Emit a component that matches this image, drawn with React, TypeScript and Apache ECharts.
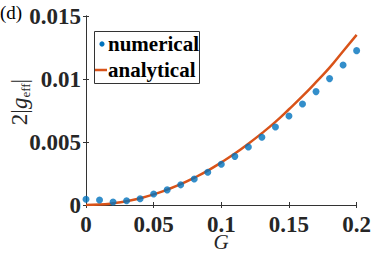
import React, { useEffect, useRef } from "react";
import * as echarts from "echarts";

const gValues = [0, 0.01, 0.02, 0.03, 0.04, 0.05, 0.06, 0.07, 0.08, 0.09, 0.1, 0.11, 0.12, 0.13, 0.14, 0.15, 0.16, 0.17, 0.18, 0.19, 0.2];
const numerical = [0.00045, 0.0004, 0.00024, 0.00034, 0.0005, 0.00087, 0.0012, 0.0016, 0.00206, 0.0026, 0.00323, 0.00386, 0.0046, 0.00537, 0.00619, 0.00706, 0.00802, 0.009, 0.01003, 0.01111, 0.01225];
const analytical = [0, 0.00003, 0.000135, 0.0003, 0.00054, 0.00084, 0.00122, 0.00165, 0.00216, 0.00273, 0.00338, 0.00408, 0.00486, 0.0057, 0.0066, 0.0076, 0.00864, 0.00975, 0.0109, 0.0122, 0.0135];
const legendNames = ["numerical", "analytical"];
const panelLabel = "(d)";
const xName = "G";

const FONT = "Liberation Serif";
const AXIS = "#333333";
const BLUE = "#0072BD";
const ORANGE = "#D95319";

export default function App() {
  const ref = useRef<HTMLDivElement>(null);
  useEffect(() => {
    if (!ref.current) return;
    const chart = echarts.init(ref.current, null, { renderer: "svg" });
    const grid = { left: 86, top: 16, width: 274, height: 189 };
    const labelStyle = { fontFamily: FONT, fontWeight: "bold" as const, fontSize: 23, color: "#262626", lineHeight: 20 };
    const tick = { show: true, inside: true, length: 3, lineStyle: { color: AXIS, width: 1 } };
    const line = { show: true, lineStyle: { color: AXIS, width: 1 } };
    chart.setOption({
      animation: false,
      grid: [grid],
      xAxis: [
        {
          type: "value", min: 0, max: 0.2, interval: 0.05, position: "bottom",
          axisLine: line, axisTick: tick, splitLine: { show: false },
          axisLabel: { ...labelStyle, margin: 9, formatter: (v: number) => String(+v.toFixed(3)) },
        },
        {
          type: "value", min: 0, max: 0.2, interval: 0.05, position: "top",
          axisLine: line, axisTick: tick, splitLine: { show: false }, axisLabel: { show: false },
        },
      ],
      yAxis: [
        {
          type: "value", min: 0, max: 0.015, interval: 0.005, position: "left",
          axisLine: line, axisTick: tick, splitLine: { show: false },
          axisLabel: { ...labelStyle, margin: 5, formatter: (v: number) => String(+v.toFixed(4)) },
        },
        {
          type: "value", min: 0, max: 0.015, interval: 0.005, position: "right",
          axisLine: line, axisTick: tick, splitLine: { show: false }, axisLabel: { show: false },
        },
      ],
      series: [
        {
          name: legendNames[1], type: "line", showSymbol: false, symbol: "none",
          data: gValues.map((g, i) => [g, analytical[i]]),
          lineStyle: { color: ORANGE, width: 2.5 }, smooth: true, z: 2,
        },
        {
          name: legendNames[0], type: "scatter", symbolSize: 7,
          data: gValues.map((g, i) => [g, numerical[i]]),
          itemStyle: { color: BLUE }, z: 3,
        },
      ],
      graphic: [
        { type: "text", left: 0, top: 3, style: { text: panelLabel, fontFamily: FONT, fontSize: 19, fill: "#000" } },
        {
          type: "text", x: 19, y: 102, rotation: Math.PI / 2,
          style: {
            text: "{n|2|}{g|g}{s|eff}{n||}",
            align: "center", verticalAlign: "middle",
            rich: {
              n: { fontFamily: FONT, fontSize: 23, fill: "#262626", lineHeight: 26, verticalAlign: "middle" },
              g: { fontFamily: FONT, fontSize: 23, fontStyle: "italic", fill: "#262626", lineHeight: 26, verticalAlign: "middle" },
              s: { fontFamily: FONT, fontSize: 13, fill: "#262626", lineHeight: 26, verticalAlign: "bottom" },
            },
          },
        },
        { type: "text", x: 221, y: 242, style: { text: xName, fontFamily: FONT, fontStyle: "italic", fontSize: 21, lineHeight: 18, fill: "#262626", align: "center", verticalAlign: "middle" } },
        { type: "rect", shape: { x: 94.5, y: 31.5, width: 105, height: 52 }, style: { fill: "#fff", stroke: "#333", lineWidth: 1 }, z: 10 },
        { type: "circle", shape: { cx: 102, cy: 44, r: 2.6 }, style: { fill: BLUE }, z: 11 },
        { type: "line", shape: { x1: 95, y1: 70, x2: 107, y2: 70 }, style: { stroke: ORANGE, lineWidth: 2.5 }, z: 11 },
        { type: "text", x: 108, y: 44, style: { text: legendNames[0], fontFamily: FONT, fontWeight: "bold", fontSize: 21, fill: "#000", verticalAlign: "middle" }, z: 11 },
        { type: "text", x: 108, y: 70, style: { text: legendNames[1], fontFamily: FONT, fontWeight: "bold", fontSize: 21, fill: "#000", verticalAlign: "middle" }, z: 11 },
      ],
    });
    return () => chart.dispose();
  }, []);
  return <div ref={ref} style={{ position: "fixed", left: 0, top: 0, width: 374, height: 253, background: "#fff" }} />;
}
